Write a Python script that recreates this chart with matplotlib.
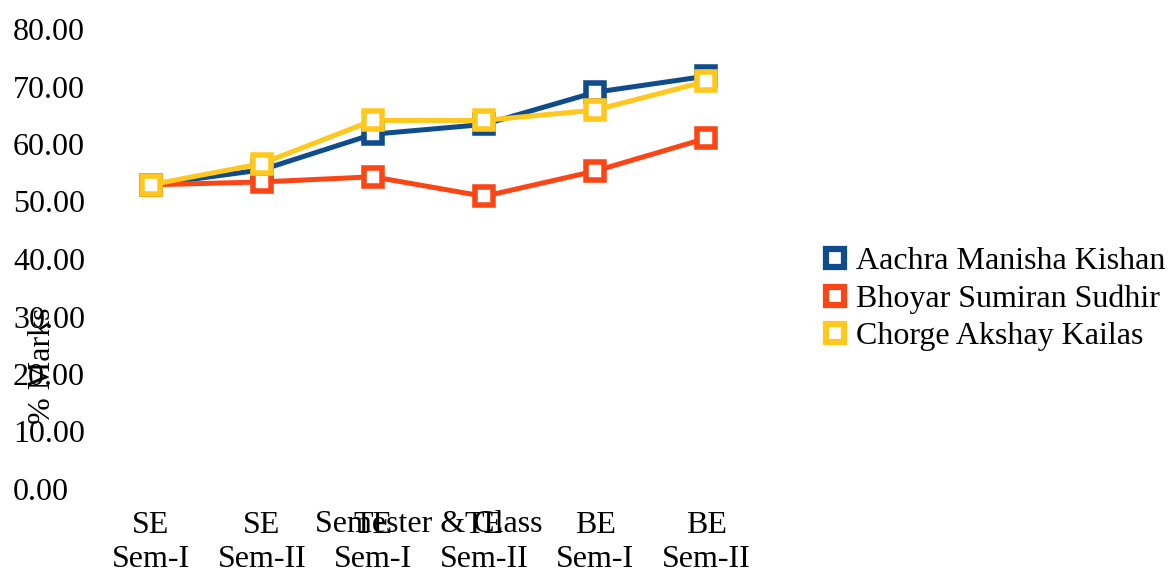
import matplotlib.pyplot as plt
import numpy as np
from matplotlib.legend_handler import HandlerTuple

plt.rcParams['font.family'] = ['Liberation Serif', 'DejaVu Serif']

categories = ["SE\nSem-I", "SE\nSem-II", "TE\nSem-I", "TE\nSem-II", "BE\nSem-I", "BE\nSem-II"]
names = ["Aachra Manisha Kishan", "Bhoyar Sumiran Sudhir", "Chorge Akshay Kailas"]
aachra = [52.9, 55.5, 61.7, 63.4, 69.0, 71.8]
bhoyar = [52.9, 53.4, 54.3, 50.9, 55.3, 61.0]
chorge = [52.9, 56.6, 64.1, 64.1, 65.9, 70.9]
colors = ["#0F4C8C", "#FA4616", "#FFC81E"]
yticks = np.arange(0, 81, 10)

fig = plt.figure(figsize=(11.74, 5.69), dpi=100)
ax = fig.add_axes([95/1174, 1-489/569, 667/1174, 460/569])

x = np.arange(len(categories))
handles = []
for vals, name, c in zip([aachra, bhoyar, chorge], names, colors):
    ax.plot(x, vals, color=c, lw=3.6, marker='s', ms=12.6, mfc='white',
            mec=c, mew=4)
    # legend handle: box marker with the line drawn over it
    m = plt.Line2D([], [], ls='none', marker='s', ms=13, mfc='white', mec=c, mew=4.5)
    l = plt.Line2D([], [], color=c, lw=3.0)
    handles.append((m, l))

ax.set_xlim(-0.5, len(categories)-0.5)
ax.set_ylim(0, 80)
ax.set_yticks(yticks)
ax.set_yticklabels(["%.2f" % v for v in yticks], ha='left')
ax.tick_params(axis='y', length=0, pad=59, labelsize=23)
ax.set_xticks(x)
ax.set_xticklabels(categories, linespacing=1.2)
ax.tick_params(axis='x', length=0, pad=16, labelsize=23)
for s in ax.spines.values():
    s.set_visible(False)

ax.set_xlabel("Semester & Class", fontsize=23, va='top')
ax.xaxis.set_label_coords(0.5, -0.045)
ax.set_ylabel("% Marks", fontsize=23, va='center')
ax.yaxis.set_label_coords(-0.079, 0.267)

fig.legend(handles, names, loc='center left', bbox_to_anchor=(806/1174, 1-299/569),
           frameon=False, fontsize=23, handlelength=0.4, handletextpad=0.25,
           labelspacing=0.25, handler_map={tuple: HandlerTuple(ndivide=None)})

fig.savefig("out.png", dpi=100)
